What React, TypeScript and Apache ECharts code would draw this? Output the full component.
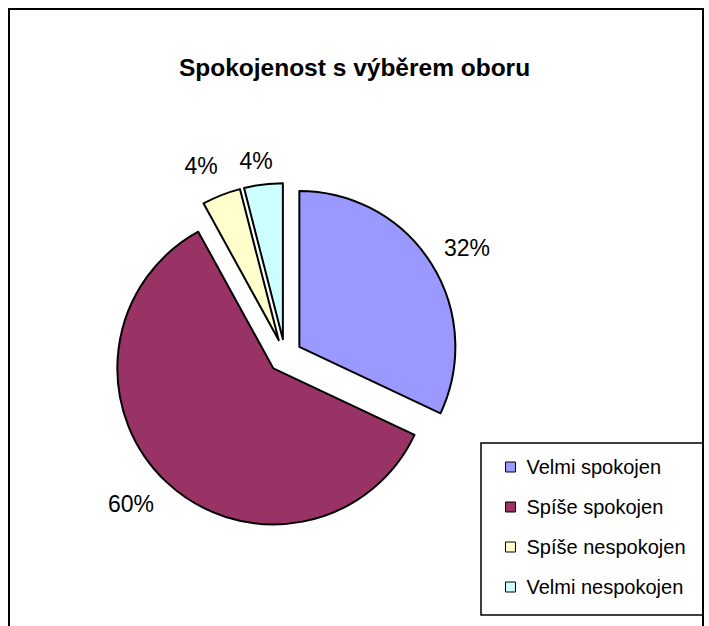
import React, { useEffect, useRef } from "react";
import * as echarts from "echarts";

const categories = ["Velmi spokojen", "Spíše spokojen", "Spíše nespokojen", "Velmi nespokojen"];
const values = [32, 60, 4, 4];
const colors = ["#9999FF", "#993366", "#FFFFCC", "#CCFFFF"];
const titleText = "Spokojenost s výběrem oboru";
const FONT = "'Liberation Sans', Arial, sans-serif";
// per-slice label nudges [dx, dy] in px (style only)
const labelNudges = [
  [8, 2],
  [-13, -2],
  [-8, 2],
  [-3, 9],
];

export default function App() {
  const ref = useRef<HTMLDivElement>(null);
  useEffect(() => {
    if (!ref.current) return;
    const chart = echarts.init(ref.current, undefined, { renderer: "svg" });
    const data = categories.map((name, i) => ({
      name,
      value: values[i],
      selected: true,
      itemStyle: { color: colors[i] },
    }));
    const pad = (n: number[]) => [
      Math.max(0, 2 * n[1]),
      Math.max(0, -2 * n[0]),
      Math.max(0, -2 * n[1]),
      Math.max(0, 2 * n[0]),
    ];
    chart.setOption({
      animation: false,
      backgroundColor: "#ffffff",
      title: {
        text: titleText,
        left: "center",
        top: 55,
        padding: 0,
        textStyle: { fontFamily: FONT, fontSize: 24.5, fontWeight: "bold", color: "#000" },
      },
      graphic: [
        {
          type: "rect",
          shape: { x: 9, y: 9, width: 694, height: 660 },
          style: { fill: "none", stroke: "#000", lineWidth: 2 },
          z: 100,
          silent: true,
        },
        {
          type: "rect",
          shape: { x: 481, y: 443, width: 222, height: 172 },
          style: { fill: "#fff", stroke: "#000", lineWidth: 1.5 },
          z: 0,
          silent: true,
        },
      ],
      legend: {
        orient: "vertical",
        left: 505,
        top: 457,
        padding: 0,
        itemWidth: 10,
        itemHeight: 10,
        itemGap: 20,
        icon: "rect",
        data: categories,
        selectedMode: false,
        itemStyle: { borderColor: "#000", borderWidth: 1 },
        textStyle: { fontFamily: FONT, fontSize: 20, color: "#000", padding: [0, 0, 0, 6] },
        z: 5,
      },
      series: [
        {
          type: "pie",
          center: [285, 356],
          radius: [0, 156],
          startAngle: 90,
          clockwise: true,
          selectedMode: "multiple",
          selectedOffset: 17,
          avoidLabelOverlap: false,
          label: { show: false },
          labelLine: { show: false },
          itemStyle: { borderColor: "#000", borderWidth: 2 },
          emphasis: { disabled: true },
          data,
          silent: true,
        },
        {
          type: "pie",
          center: [285, 356],
          radius: [176, 196],
          startAngle: 90,
          clockwise: true,
          selectedMode: "multiple",
          selectedOffset: 17,
          avoidLabelOverlap: false,
          itemStyle: { color: "rgba(0,0,0,0)", borderWidth: 0 },
          label: {
            show: true,
            position: "inside",
            formatter: "{t|{d}%}",
            fontFamily: FONT,
            fontSize: 23,
            color: "#000",
            rotate: 0,
          },
          labelLine: { show: false },
          emphasis: { disabled: true },
          data: data.map((d, i) => ({
            ...d,
            itemStyle: { color: "rgba(0,0,0,0)" },
            label: {
              rich: {
                t: {
                  fontFamily: FONT,
                  fontSize: 23,
                  color: "#000",
                  lineHeight: 26,
                  padding: pad(labelNudges[i]),
                },
              },
            },
          })),
          silent: true,
        },
      ],
    });
    return () => chart.dispose();
  }, []);
  return (
    <div
      ref={ref}
      style={{ position: "absolute", left: 0, top: 0, width: 709, height: 626 }}
    />
  );
}
